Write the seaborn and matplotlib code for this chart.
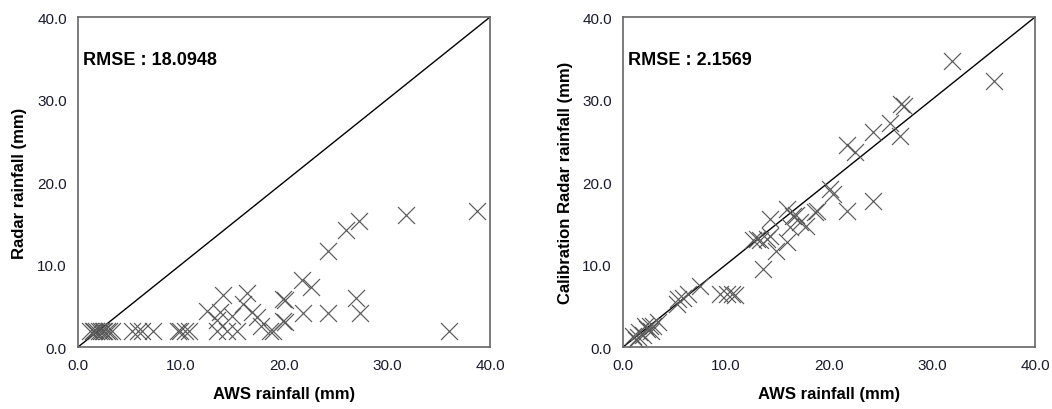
import numpy as np
import pandas as pd
import seaborn as sns
import matplotlib.pyplot as plt

# AWS vs radar rainfall, before calibration (left panel)
aws_raw = [1.2, 1.5, 1.8, 2.0, 2.2, 2.5, 2.8, 3.0, 3.3, 1.6, 2.4,
           5.2, 5.8, 6.2, 7.3, 9.7, 9.9, 10.4, 10.8,
           12.5, 13.5, 13.8, 14.1, 14.5, 15.4, 13.5, 16.0, 16.4, 16.9, 17.4,
           18.6, 18.9, 19.9, 19.9, 20.1, 20.1, 21.7, 21.8, 22.6, 24.3, 24.3,
           26.0, 27.0, 27.3, 27.4, 31.8, 36.0, 38.7, 15.0, 17.8]
radar_raw = [2.0, 2.0, 2.0, 2.0, 2.0, 2.0, 2.0, 2.0, 2.0, 2.0, 2.0,
             2.0, 2.0, 2.0, 2.0, 2.0, 2.0, 2.0, 2.0,
             4.4, 2.0, 4.2, 6.3, 2.0, 2.0, 3.3, 5.2, 6.6, 4.2, 3.6,
             2.0, 2.0, 5.8, 3.2, 5.7, 3.0, 8.1, 4.1, 7.3, 11.7, 4.1,
             14.2, 6.0, 15.3, 4.1, 16.0, 2.0, 16.5, 3.8, 2.5]

# AWS vs calibrated radar rainfall (right panel)
aws_cal = [1.0, 1.3, 1.6, 1.9, 2.3, 2.6, 2.9, 3.4, 1.5, 2.1, 2.7,
           5.2, 5.3, 5.8, 6.3, 7.5, 9.4, 10.1, 10.6, 10.9,
           13.0, 13.3, 13.6, 14.0, 14.3, 14.3, 14.9, 15.9, 15.9, 16.5, 17.2,
           17.8, 18.8, 18.6, 20.1, 20.4, 21.7, 21.7, 22.5, 24.3, 24.3,
           25.9, 26.9, 27.3, 27.0, 31.9, 36.0, 12.6, 16.8, 16.2]
radar_cal = [1.3, 0.9, 1.8, 1.5, 2.2, 2.5, 2.5, 3.0, 1.2, 2.6, 1.9,
             5.2, 5.8, 6.0, 6.4, 7.4, 6.4, 6.4, 6.4, 6.3,
             13.1, 13.0, 9.5, 13.1, 13.5, 15.5, 11.7, 12.7, 16.7, 15.9, 15.2,
             14.7, 16.5, 16.4, 19.2, 18.5, 24.5, 16.5, 23.6, 26.1, 17.7,
             27.2, 25.6, 29.2, 29.5, 34.7, 32.2, 13.0, 16.0, 14.5]

left_df = pd.DataFrame({"aws": aws_raw, "radar": radar_raw})
right_df = pd.DataFrame({"aws": aws_cal, "radar": radar_cal})

sns.set_style("white")
plt.rcParams["font.family"] = ["Liberation Sans", "DejaVu Sans"]

fig = plt.figure(figsize=(10.52, 4.10), dpi=100)
ax1 = fig.add_axes([0.0741, 0.151, 0.3917, 0.805])
ax2 = fig.add_axes([0.5922, 0.151, 0.3917, 0.805])

panels = [
    (ax1, left_df, "Radar rainfall (mm)", "RMSE : 18.0948"),
    (ax2, right_df, "Calibration Radar rainfall (mm)", "RMSE : 2.1569"),
]

ticks = [0, 10, 20, 30, 40]
for ax, d, ylab, rmse in panels:
    ax.plot([0, 40], [0, 40], color="black", lw=1.0, zorder=1)
    sns.scatterplot(data=d, x="aws", y="radar", marker="x", s=150,
                    color="#5a5a5a", linewidth=0.85, ax=ax, zorder=2)
    ax.set_xlim(0, 40)
    ax.set_ylim(0, 40)
    ax.set_xticks(ticks)
    ax.set_yticks(ticks)
    ax.set_xticklabels([f"{t:.1f}" for t in ticks])
    ax.set_yticklabels([f"{t:.1f}" for t in ticks])
    ax.tick_params(direction="in", length=4, width=1, color="#555555",
                   labelsize=11, labelcolor="#1a1a2e", pad=8)
    for sp in ax.spines.values():
        sp.set_color("#666666")
        sp.set_linewidth(1.2)
    ax.set_xlabel("AWS rainfall (mm)", fontsize=12, fontweight="bold",
                  color="black", labelpad=10)
    ax.set_ylabel(ylab, fontsize=12, fontweight="bold", color="black", labelpad=7)
    ax.text(0.5, 34.9, rmse, fontsize=13, fontweight="bold", color="black",
            va="center", ha="left")

fig.savefig("out.png", dpi=100)
